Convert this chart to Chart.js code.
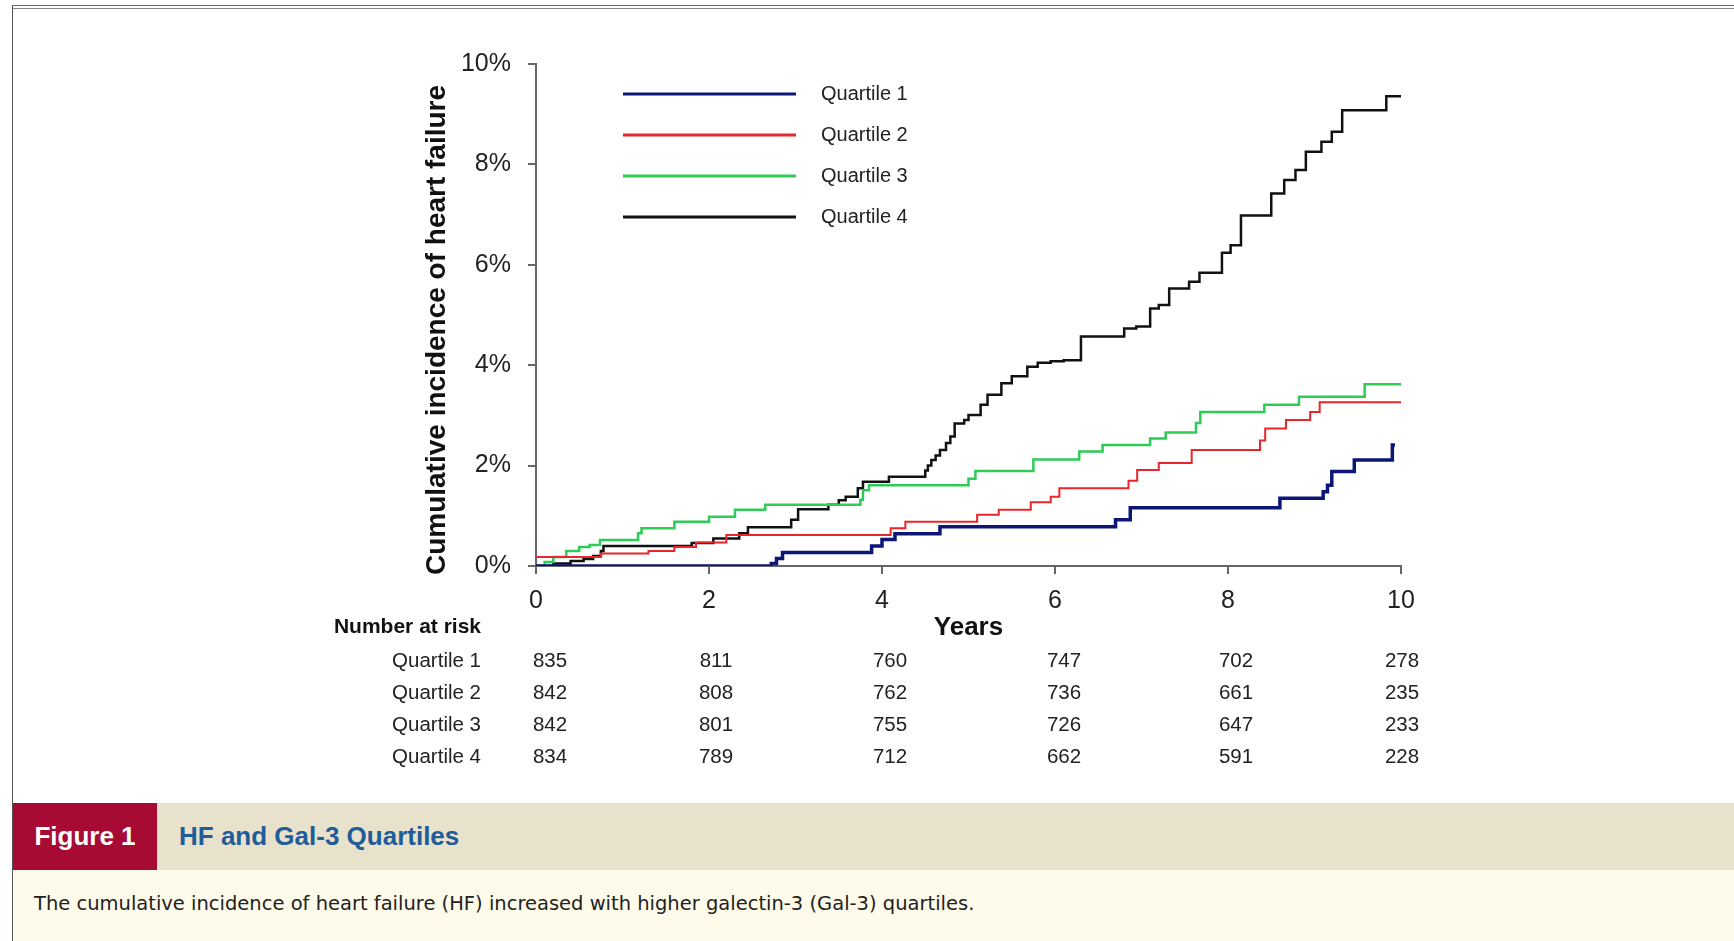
<!DOCTYPE html>
<html>
<head>
<meta charset="utf-8">
<script src="https://cdn.jsdelivr.net/npm/chart.js@4.4.1/dist/chart.umd.min.js"></script>
<style>
  body { margin: 0; background: #fff; width: 1734px; height: 941px; overflow: hidden; position: relative; font-family: 'Liberation Sans', Arial, sans-serif; }
  #topline { position: absolute; left: 12px; top: 5px; right: 0; height: 2px; border-top: 1px solid #666; border-bottom: 1px solid #888; }
  #leftline { position: absolute; left: 12px; top: 6px; bottom: 0; width: 1px; background: #555; }
  #km { position: absolute; left: 0; top: 0; }
  #band { position: absolute; left: 13px; top: 803px; right: 0; height: 67px; background: #e8e1cb; }
  #fig { position: absolute; left: 0; top: 0; width: 144px; height: 67px; background: #a70a33; color: #fff; font-weight: bold; font-size: 26px; line-height: 67px; text-align: center; }
  #figtitle { position: absolute; left: 166px; top: 0; height: 67px; line-height: 67px; color: #1f5c98; font-weight: bold; font-size: 26px; }
  #caption { position: absolute; left: 13px; top: 870px; right: 0; bottom: 0; background: #fefbea; }
  #caption span { position: absolute; left: 21px; top: 22px; font-family: 'DejaVu Sans', sans-serif; font-size: 19.5px; color: #222; }
</style>
</head>
<body>
<div id="topline"></div>
<div id="leftline"></div>
<canvas id="km" width="1734" height="800"></canvas>
<div id="band"><div id="fig">Figure 1</div><div id="figtitle">HF and Gal-3 Quartiles</div></div>
<div id="caption"><span>The cumulative incidence of heart failure (HF) increased with higher galectin-3 (Gal-3) quartiles.</span></div>
<script>
// groups and colours
const groupNames = ['Quartile 1', 'Quartile 2', 'Quartile 3', 'Quartile 4'];
const groupColors = ['#0b1677', '#e8262b', '#2ecb57', '#111111'];
const groupWidths = [3.5, 2, 2.5, 2.5];

// cumulative incidence (%), time in years
const q1Years = [0, 2.72, 2.78, 2.85, 3.88, 4.0, 4.15, 4.67, 6.7, 6.87, 8.6, 9.1, 9.15, 9.2, 9.46, 9.9, 9.93];
const q1Inc   = [0, 0.05, 0.15, 0.27, 0.4, 0.53, 0.64, 0.78, 0.92, 1.16, 1.35, 1.48, 1.61, 1.88, 2.11, 2.41, 2.41];

const q2Years = [0, 0.75, 1.3, 1.6, 1.85, 2.2, 4.1, 4.27, 5.1, 5.35, 5.72, 5.95, 6.05, 6.85, 6.95, 7.2, 7.58, 8.37, 8.43, 8.67, 8.95, 9.06, 10];
const q2Inc   = [0.18, 0.25, 0.3, 0.38, 0.47, 0.62, 0.75, 0.88, 1.02, 1.12, 1.27, 1.38, 1.55, 1.7, 1.91, 2.05, 2.31, 2.5, 2.74, 2.91, 3.07, 3.26, 3.26];

const q3Years = [0, 0.1, 0.2, 0.35, 0.5, 0.62, 0.74, 1.18, 1.22, 1.6, 2.0, 2.3, 2.65, 3.75, 3.78, 3.85, 5.0, 5.08, 5.75, 6.28, 6.55, 7.1, 7.28, 7.63, 7.68, 8.42, 8.82, 9.58, 10];
const q3Inc   = [0, 0.08, 0.18, 0.3, 0.38, 0.42, 0.52, 0.65, 0.75, 0.88, 0.98, 1.12, 1.22, 1.32, 1.51, 1.61, 1.74, 1.89, 2.12, 2.28, 2.41, 2.54, 2.66, 2.85, 3.07, 3.21, 3.37, 3.62, 3.62];

const q4Years = [0, 0.2, 0.4, 0.55, 0.66, 0.75, 0.78, 1.8, 2.05, 2.35, 2.45, 2.95, 3.03, 3.38, 3.5, 3.58, 3.72, 3.78, 4.08, 4.5, 4.53, 4.57, 4.62, 4.67, 4.74, 4.79, 4.84, 4.95, 5.0, 5.14, 5.22, 5.38, 5.5, 5.68, 5.8, 5.95, 6.1, 6.3, 6.8, 6.94, 7.1, 7.2, 7.32, 7.55, 7.67, 7.93, 8.03, 8.15, 8.5, 8.65, 8.78, 8.9, 9.08, 9.2, 9.32, 9.83, 10];
const q4Inc   = [0, 0.05, 0.1, 0.14, 0.2, 0.3, 0.4, 0.46, 0.55, 0.65, 0.77, 0.92, 1.13, 1.22, 1.31, 1.38, 1.55, 1.68, 1.78, 1.9, 2.0, 2.11, 2.2, 2.31, 2.45, 2.58, 2.84, 2.91, 3.01, 3.21, 3.41, 3.64, 3.78, 3.97, 4.05, 4.08, 4.1, 4.57, 4.73, 4.77, 5.13, 5.2, 5.53, 5.66, 5.84, 6.24, 6.39, 6.98, 7.42, 7.69, 7.89, 8.25, 8.45, 8.65, 9.08, 9.36, 9.36];

// number at risk table
const riskYears = [0, 2, 4, 6, 8, 10];
const riskQ1 = [835, 811, 760, 747, 702, 278];
const riskQ2 = [842, 808, 762, 736, 661, 235];
const riskQ3 = [842, 801, 755, 726, 647, 233];
const riskQ4 = [834, 789, 712, 662, 591, 228];

const seriesYears = [q1Years, q2Years, q3Years, q4Years];
const seriesInc = [q1Inc, q2Inc, q3Inc, q4Inc];
const riskRows = [riskQ1, riskQ2, riskQ3, riskQ4];

const FONT = "'Liberation Sans', Arial, sans-serif";

const datasets = groupNames.map((name, i) => ({
    label: name,
    data: seriesYears[i].map((t, j) => ({ x: t, y: seriesInc[i][j] })),
    borderColor: groupColors[i],
    borderWidth: groupWidths[i],
    stepped: 'before',
    pointRadius: 0,
    fill: false,
}));

// y title, legend inside the plot, number at risk table under the axis
const extras = {
    id: 'extras',
    afterDraw(chart) {
        const ctx = chart.ctx;
        const xs = chart.scales.x;
        ctx.save();
        // y axis title (sits a bit below the plot's middle in the original)
        ctx.save();
        ctx.translate(437, 330);
        ctx.rotate(-Math.PI / 2);
        ctx.fillStyle = '#111';
        ctx.font = 'bold 28px ' + FONT;
        ctx.textAlign = 'center';
        ctx.textBaseline = 'middle';
        ctx.fillText('Cumulative incidence of heart failure', 0, 0);
        ctx.restore();
        // legend
        const legendY = [94, 135, 176, 217];
        chart.data.datasets.forEach((ds, i) => {
            ctx.strokeStyle = ds.borderColor;
            ctx.lineWidth = 3;
            ctx.beginPath();
            ctx.moveTo(623, legendY[i]);
            ctx.lineTo(796, legendY[i]);
            ctx.stroke();
            ctx.fillStyle = '#222';
            ctx.font = '20px ' + FONT;
            ctx.textAlign = 'left';
            ctx.textBaseline = 'middle';
            ctx.fillText(ds.label, 821, legendY[i]);
        });
        // risk table
        ctx.fillStyle = '#111';
        ctx.font = 'bold 21px ' + FONT;
        ctx.textAlign = 'right';
        ctx.textBaseline = 'middle';
        ctx.fillText('Number at risk', 481, 627);
        const rowY = [661, 693, 725, 757];
        const colShift = [14, 7, 8, 9, 8, 1];
        riskRows.forEach((row, i) => {
            ctx.font = '20.5px ' + FONT;
            ctx.fillStyle = '#222';
            ctx.textAlign = 'right';
            ctx.fillText(groupNames[i], 481, rowY[i]);
            ctx.textAlign = 'center';
            row.forEach((n, j) => {
                ctx.fillText(String(n), xs.getPixelForValue(riskYears[j]) + colShift[j], rowY[i]);
            });
        });
        ctx.restore();
    }
};

new Chart(document.getElementById('km'), {
    type: 'line',
    data: { datasets: datasets },
    options: {
        responsive: false,
        animation: false,
        layout: { padding: { left: 421, top: 64, right: 333, bottom: 157 } },
        scales: {
            x: {
                type: 'linear',
                min: 0,
                max: 10,
                afterFit: (scale) => { scale.height = 77; },
                ticks: { stepSize: 2, color: '#222', font: { family: FONT, size: 25 }, padding: 12 },
                grid: { drawOnChartArea: false, drawTicks: true, tickLength: 8, color: '#666', lineWidth: 2 },
                border: { display: true, color: '#666', width: 2 },
                title: { display: true, text: 'Years', color: '#111', padding: 0, font: { family: FONT, size: 26, weight: 'bold' } },
            },
            y: {
                min: 0,
                max: 10,
                afterFit: (scale) => { scale.width = 115; },
                ticks: { stepSize: 2, color: '#222', font: { family: FONT, size: 25 }, padding: 17, callback: (v) => v + '%' },
                grid: { drawOnChartArea: false, drawTicks: true, tickLength: 8, color: '#666', lineWidth: 2 },
                border: { display: true, color: '#666', width: 2 },
                title: { display: false },
            },
        },
        plugins: {
            legend: { display: false },
            tooltip: { enabled: false },
        },
    },
    plugins: [extras],
});
</script>
</body>
</html>
